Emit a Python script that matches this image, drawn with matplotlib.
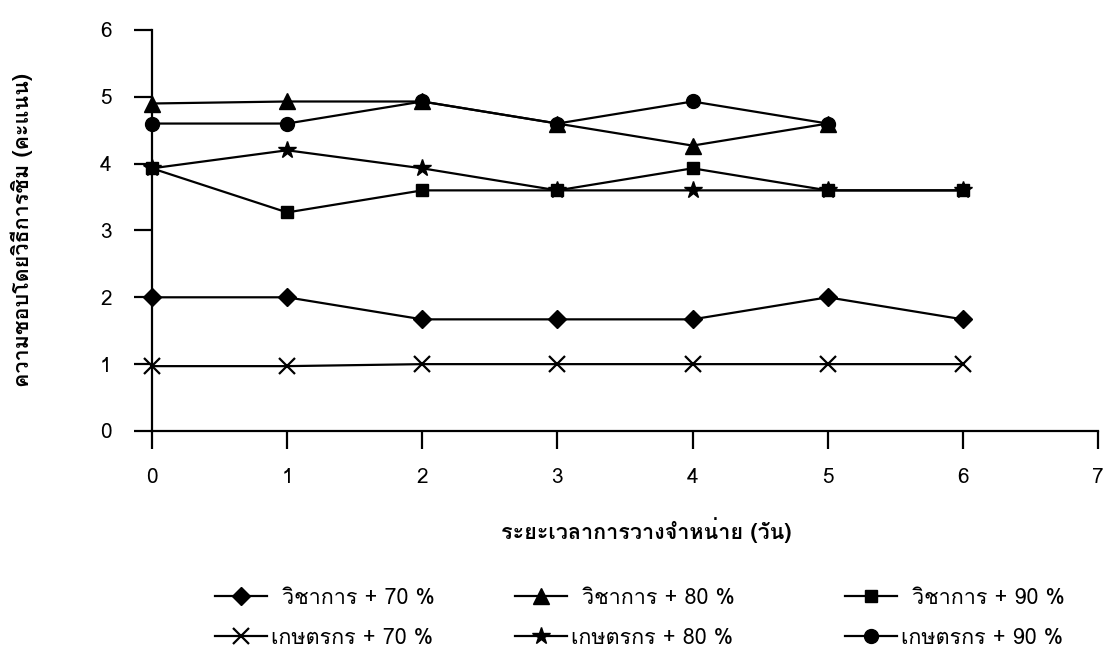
import matplotlib
matplotlib.use("Agg")
import matplotlib.pyplot as plt
from matplotlib import font_manager
from matplotlib.ft2font import FT2Font


def find_thai_font():
    # pick the first installed font that has Thai glyphs
    for f in font_manager.fontManager.ttflist:
        try:
            cmap = FT2Font(f.fname).get_charmap()
        except Exception:
            continue
        if 0x0E01 in cmap and 0x0E32 in cmap:
            return f.name
    return None


thai = find_thai_font()
fams = ([thai] if thai else []) + ["DejaVu Sans"]
plt.rcParams["font.family"] = fams

days = [0, 1, 2, 3, 4, 5, 6]

# mean liking scores per treatment
wichakan_70 = [2.0, 2.0, 1.67, 1.67, 1.67, 2.0, 1.67]
wichakan_80 = [4.9, 4.93, 4.93, 4.6, 4.27, 4.6]
wichakan_90 = [3.93, 3.27, 3.6, 3.6, 3.93, 3.6, 3.6]
kaset_70 = [0.97, 0.97, 1.0, 1.0, 1.0, 1.0, 1.0]
kaset_80 = [3.93, 4.2, 3.93, 3.6, 3.6, 3.6, 3.6]
kaset_90 = [4.6, 4.6, 4.93, 4.6, 4.93, 4.6]

labels = ["วิชาการ + 70 %", "วิชาการ + 80 %", "วิชาการ + 90 %",
          "เกษตรกร + 70 %", "เกษตรกร + 80 %", "เกษตรกร + 90 %"]

series = [wichakan_70, wichakan_80, wichakan_90, kaset_70, kaset_80, kaset_90]
markers = ["D", "^", "s", "x", "*", "o"]
msizes = [9, 12, 9, 11, 13, 10]

fig = plt.figure(figsize=(11.06, 6.62), dpi=100)
ax = fig.add_axes([0.1374, 0.349, 0.8554, 0.6057])

handles = []
for vals, m, ms, lab in zip(series, markers, msizes, labels):
    h, = ax.plot(days[:len(vals)], vals, color="black", lw=1.6,
                 marker=m, ms=ms, mew=1.6 if m == "x" else 1,
                 mfc="black", mec="black", label=lab, clip_on=False)
    handles.append(h)

ax.set_xlim(0, 7)
ax.set_ylim(0, 6)
ax.set_xticks(range(8))
ax.set_yticks(range(7))
for s in ["top", "right"]:
    ax.spines[s].set_visible(False)
for s in ["left", "bottom"]:
    ax.spines[s].set_linewidth(1.6)
ax.tick_params(axis="x", direction="out", length=13, width=1.6, pad=14, labelsize=15)
ax.tick_params(axis="y", direction="out", length=13, width=1.6, pad=16, labelsize=15)

ax.set_xlabel("ระยะเวลาการวางจำหน่าย (วัน)", fontsize=15.5, fontweight="bold", labelpad=22)
ax.xaxis.set_label_coords(0.522, -0.215)
ax.set_ylabel("ความชอบโดยวิธีการชิม (คะแนน)", fontsize=15.5, fontweight="bold")
ax.yaxis.set_label_coords(-0.126, 0.5)

# legend entries placed one by one: 3 columns x 2 rows
col_x = [215, 515, 845]
row_y = [598, 638]
for i, (h, lab) in enumerate(zip(handles, labels)):
    row, col = divmod(i, 3)
    fig.legend([h], [lab], loc="center left", frameon=False, fontsize=15.5,
               handlelength=2.4, handletextpad=0.7 if row == 0 else 0.2,
               borderpad=0, borderaxespad=0,
               bbox_to_anchor=(col_x[col] / 1106, 1 - row_y[row] / 662))

fig.savefig("out.png", dpi=100)
